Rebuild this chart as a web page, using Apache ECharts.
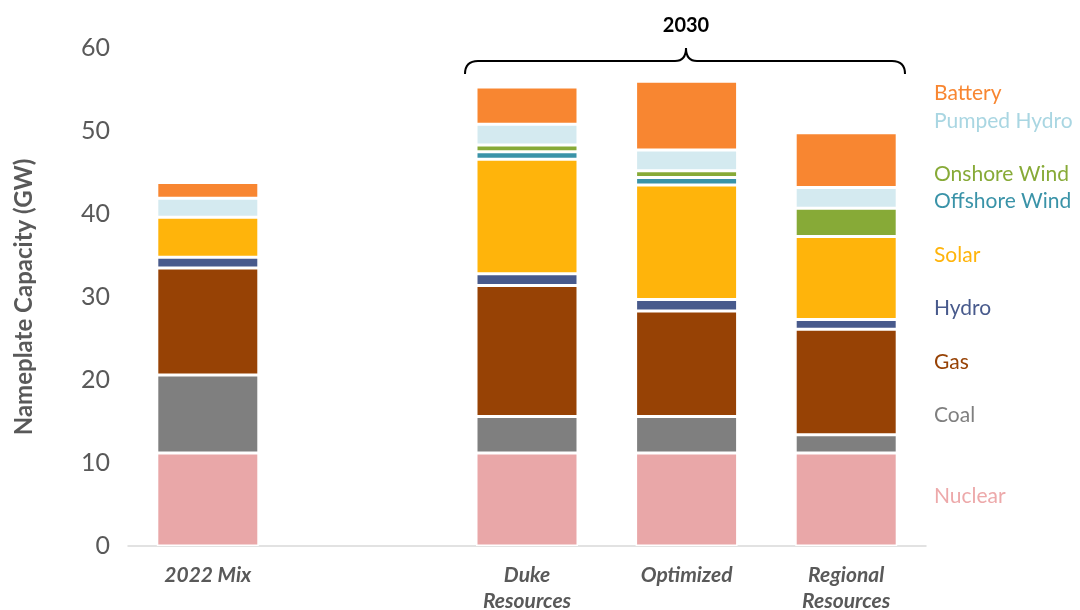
<!DOCTYPE html>
<html>
<head>
<meta charset="utf-8">
<script src="https://cdn.jsdelivr.net/npm/echarts@6/dist/echarts.min.js"></script>
<style>
  html, body { margin: 0; padding: 0; background: #fff; }
  #main { width: 1080px; height: 610px; }
</style>
</head>
<body>
<div id="main"></div>
<script>
// categories: blank slot between 2022 and the 2030 group
var categories = ['2022 Mix', '', 'Duke\nResources', 'Optimized', 'Regional\nResources'];

var nuclear  = [11.2, null, 11.2, 11.2, 11.2];
var coal     = [9.4,  null, 4.4,  4.4,  2.2];
var gas      = [12.9, null, 15.8, 12.7, 12.7];
var hydro    = [1.3,  null, 1.4,  1.4,  1.2];
var solar    = [4.8,  null, 13.8, 13.8, 10.0];
var offshore = [0,    null, 0.9,  0.9,  0];
var onshore  = [0,    null, 0.8,  0.8,  3.4];
var pumped   = [2.3,  null, 2.5,  2.5,  2.5];
var battery  = [1.9,  null, 4.5,  8.3,  6.6];

var seriesNames  = ['Nuclear', 'Coal', 'Gas', 'Hydro', 'Solar', 'Offshore Wind', 'Onshore Wind', 'Pumped Hydro', 'Battery'];
var seriesData   = [nuclear, coal, gas, hydro, solar, offshore, onshore, pumped, battery];
var barColors    = ['#E9A7A8', '#7F7F7F', '#974205', '#485A8C', '#FFB40B', '#3A93A8', '#87AA37', '#D4EAF0', '#F88631'];
var labelColors  = ['#EDA9AA', '#7F7F7F', '#974205', '#485A8C', '#FFB40B', '#3A93A8', '#87AA37', '#A9D6E2', '#F88631'];
var labelY       = [496, 415, 362, 308, 255, 201, 174, 121, 93];

var myChart = echarts.init(document.getElementById('main'));

var series = seriesNames.map(function (name, i) {
  return {
    name: name,
    type: 'bar',
    stack: 'total',
    barWidth: 102,
    data: seriesData[i],
    itemStyle: { color: barColors[i], borderColor: '#fff', borderWidth: 1.5 }
  };
});

var legendTexts = seriesNames.map(function (name, i) {
  return {
    type: 'text',
    x: 934,
    y: labelY[i],
    style: {
      text: name,
      fill: labelColors[i],
      font: '21px Lato, "Open Sans", sans-serif',
      verticalAlign: 'middle'
    }
  };
});

// curly bracket over the 2030 group
var bracket = [
  { type: 'bezierCurve', shape: { x1: 465, y1: 74, cpx1: 465, cpy1: 61, x2: 478, y2: 61 } },
  { type: 'line', shape: { x1: 478, y1: 61, x2: 675, y2: 61 } },
  { type: 'bezierCurve', shape: { x1: 675, y1: 61, cpx1: 686, cpy1: 61, x2: 686, y2: 48 } },
  { type: 'bezierCurve', shape: { x1: 686, y1: 48, cpx1: 686, cpy1: 61, x2: 697, y2: 61 } },
  { type: 'line', shape: { x1: 697, y1: 61, x2: 892, y2: 61 } },
  { type: 'bezierCurve', shape: { x1: 892, y1: 61, cpx1: 905, cpy1: 61, x2: 905, y2: 74 } }
].map(function (el) {
  el.style = { stroke: '#000', lineWidth: 2, fill: null };
  return el;
});

option = {
  animation: false,
  grid: { left: 128, top: 48, width: 798, height: 498, outerBoundsMode: 'none', containLabel: false },
  xAxis: {
    type: 'category',
    data: categories,
    axisLine: { lineStyle: { color: '#D9D9D9', width: 1.5 } },
    axisTick: { show: false },
    axisLabel: {
      color: '#595959',
      fontSize: 21,
      fontWeight: 'bold',
      fontStyle: 'italic',
      fontFamily: 'Lato, "Open Sans", sans-serif',
      lineHeight: 26,
      margin: 16,
      interval: 0
    }
  },
  yAxis: {
    type: 'value',
    min: 0,
    max: 60,
    interval: 10,
    name: 'Nameplate Capacity (GW)',
    nameLocation: 'middle',
    nameGap: 92,
    nameTextStyle: {
      color: '#595959',
      fontSize: 24,
      fontWeight: 'bold',
      fontFamily: 'Lato, "Open Sans", sans-serif'
    },
    axisLine: { show: false },
    axisTick: { show: false },
    splitLine: { show: false },
    axisLabel: {
      color: '#595959',
      fontSize: 25,
      margin: 18,
      fontFamily: 'Lato, "Open Sans", sans-serif'
    }
  },
  series: series,
  graphic: legendTexts.concat(bracket, [
    {
      type: 'text',
      x: 686,
      y: 26,
      style: {
        text: '2030',
        fill: '#000',
        font: 'bold 20px Lato, "Open Sans", sans-serif',
        align: 'center',
        verticalAlign: 'middle'
      }
    }
  ])
};

myChart.setOption(option);
</script>
</body>
</html>
